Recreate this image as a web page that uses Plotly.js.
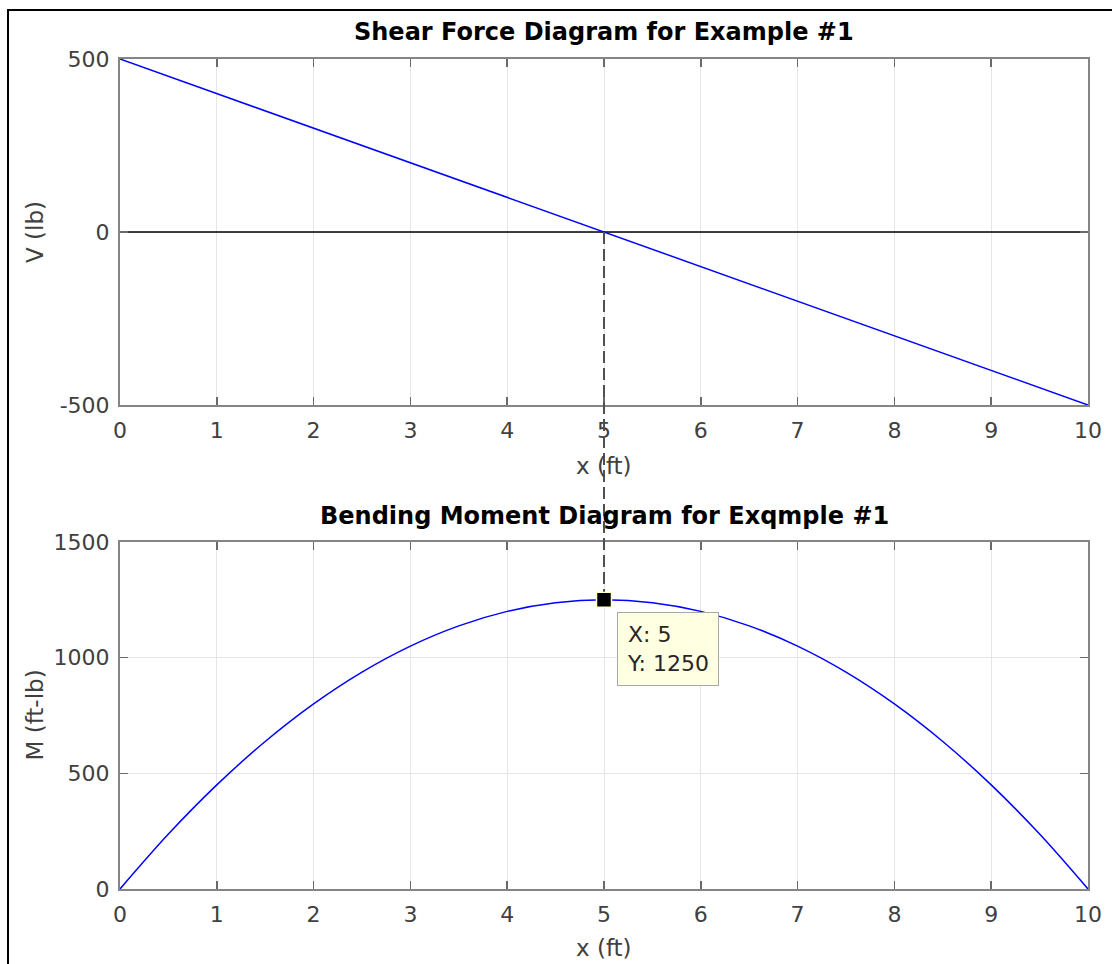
<!DOCTYPE html>
<html><head><meta charset="utf-8">
<script src="https://cdn.plot.ly/plotly-3.0.1.min.js"></script>
<style>
body{margin:0;background:#fff}
#wrap{position:relative;width:1112px;height:964px}
#chart{width:1112px;height:964px}
#frame{position:absolute;left:7px;top:9px;right:0;bottom:0;border-left:2px solid #000;border-top:2px solid #000;pointer-events:none}
</style>
</head><body><div id="wrap"><div id="chart"></div><div id="frame"></div></div>
<script>
// ---- data ----
const xShear = [0,1,2,3,4,5,6,7,8,9,10];
const vShear = [500,400,300,200,100,0,-100,-200,-300,-400,-500];
const xZero = [0,10];
const vZero = [0,0];
const xMoment = [0,0.5,1,1.5,2,2.5,3,3.5,4,4.5,5,5.5,6,6.5,7,7.5,8,8.5,9,9.5,10];
const mMoment = [0,237.5,450,637.5,800,937.5,1050,1137.5,1200,1237.5,1250,1237.5,1200,1137.5,1050,937.5,800,637.5,450,237.5,0];
const tipX = [5];
const tipY = [1250];
const xTickVals = [0,1,2,3,4,5,6,7,8,9,10];
const vTickVals = [-500,0,500];
const vTickText = ['-500','0','500'];
const mTickVals = [0,500,1000,1500];
const mTickText = ['0','500','1000','1500'];
const xRange = [0,10];
const vRange = [-500,500];
const mRange = [0,1500];
const titleTop = 'Shear Force Diagram for Example #1';
const titleBottom = 'Bending Moment Diagram for Exqmple #1';
const xLabel = 'x (ft)';
const vLabel = 'V (lb)';
const mLabel = 'M (ft-lb)';

// ---- layout helpers ----
const W = 1112, H = 964;
const M = {l:120, r:24, t:59, b:75};
const PH = H - M.t - M.b, PW = W - M.l - M.r;
const topDom = [0.5831, 1];
const botDom = [0, 0.4181];
function toPaper(v, range, dom){ return dom[0] + (v - range[0])/(range[1]-range[0])*(dom[1]-dom[0]); }

const FONT = 'DejaVu Sans';
const tickFont = {family: FONT, size: 22, color: '#404040'};
const labFont = {family: FONT, size: 23, color: '#404040'};

function xAx(anchor){
  return {anchor, range: xRange, tickvals: xTickVals, showgrid: true, gridcolor: '#e6e6e6', gridwidth: 1,
    showline: true, linecolor: '#858585', linewidth: 2, mirror: 'ticks', ticks: 'inside', ticklen: 8,
    tickwidth: 1.5, tickcolor: '#6a6a6a', tickfont: tickFont, zeroline: false, fixedrange: true, ticklabelstandoff: 5};
}
function yAx(anchor, dom, range, vals, text){
  return {anchor, domain: dom, range, tickvals: vals, ticktext: text, showgrid: true, gridcolor: '#e6e6e6', gridwidth: 1,
    showline: true, linecolor: '#858585', linewidth: 2, mirror: 'ticks', ticks: 'inside', ticklen: 8,
    tickwidth: 1.5, tickcolor: '#6a6a6a', tickfont: tickFont, zeroline: false, fixedrange: true, ticklabelstandoff: 4};
}

const traces = [
  {x: xZero, y: vZero, xaxis: 'x', yaxis: 'y', mode: 'lines', line: {color: '#000000', width: 1.5}, hoverinfo: 'skip'},
  {x: xShear, y: vShear, xaxis: 'x', yaxis: 'y', mode: 'lines', line: {color: '#0000ff', width: 1.5}},
  {x: xMoment, y: mMoment, xaxis: 'x2', yaxis: 'y2', mode: 'lines', line: {color: '#0000ff', width: 1.5, shape: 'spline'}},
  {x: tipX, y: tipY, xaxis: 'x2', yaxis: 'y2', mode: 'markers', cliponaxis: false,
   marker: {symbol: 'square', size: 15, color: '#000000', line: {color: '#ffffd0', width: 1.5}}}
];

const dashTop = toPaper(vZero[0], vRange, topDom);
const dashBot = toPaper(tipY[0], mRange, botDom) + 8/PH;

const layout = {
  width: W, height: H, margin: M, showlegend: false,
  paper_bgcolor: '#ffffff', plot_bgcolor: '#ffffff',
  font: {family: FONT},
  xaxis: xAx('y'), yaxis: yAx('x', topDom, vRange, vTickVals, vTickText),
  xaxis2: xAx('y2'), yaxis2: yAx('x2', botDom, mRange, mTickVals, mTickText),
  shapes: [
    {type: 'line', xref: 'x', yref: 'paper', x0: tipX[0], x1: tipX[0], y0: dashTop, y1: dashBot,
     line: {color: '#505050', width: 2, dash: '12px,5px'}, layer: 'above'}
  ],
  annotations: [
    {text: '<b>' + titleTop + '</b>', xref: 'paper', yref: 'paper', x: 0.5, y: 1 + 27/PH, yanchor: 'middle', xanchor: 'center',
     showarrow: false, font: {family: FONT, size: 24, color: '#000000'}},
    {text: '<b>' + titleBottom + '</b>', xref: 'paper', yref: 'paper', x: 0.5, y: botDom[1] + 26/PH, yanchor: 'middle', xanchor: 'center',
     showarrow: false, font: {family: FONT, size: 24, color: '#000000'}},
    {text: vLabel, xref: 'paper', yref: 'paper', x: -85/PW, y: (topDom[0]+topDom[1])/2, textangle: -90, xanchor: 'center', yanchor: 'middle',
     showarrow: false, font: labFont},
    {text: mLabel, xref: 'paper', yref: 'paper', x: -85/PW, y: (botDom[0]+botDom[1])/2, textangle: -90, xanchor: 'center', yanchor: 'middle',
     showarrow: false, font: labFont},
    {text: xLabel, xref: 'paper', yref: 'paper', x: 0.5, y: topDom[0] - 61/PH, xanchor: 'center', yanchor: 'middle',
     showarrow: false, font: labFont},
    {text: xLabel, xref: 'paper', yref: 'paper', x: 0.5, y: botDom[0] - 59/PH, xanchor: 'center', yanchor: 'middle',
     showarrow: false, font: labFont},
    {text: 'X: ' + tipX[0] + '<br>Y: ' + tipY[0], xref: 'x2', yref: 'y2', x: tipX[0], y: tipY[0],
     xanchor: 'left', yanchor: 'top', xshift: 13, yshift: -12, align: 'left', showarrow: false,
     bgcolor: '#ffffe1', bordercolor: '#a8a8a8', borderwidth: 1, borderpad: 9,
     font: {family: FONT, size: 22, color: '#262626'}}
  ]
};

Plotly.newPlot('chart', traces, layout, {displayModeBar: false, staticPlot: true});
</script>
</body></html>
